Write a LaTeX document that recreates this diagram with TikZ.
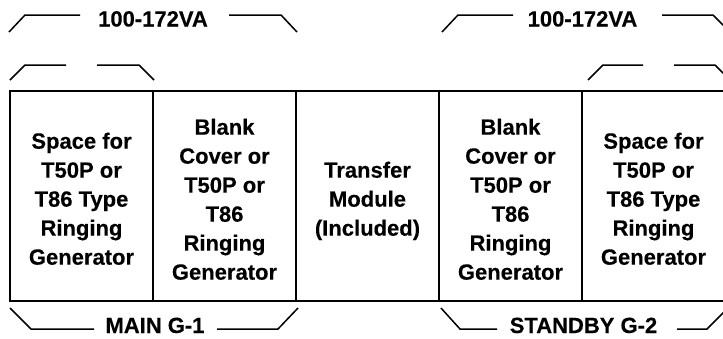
\documentclass[tikz,border=0pt]{standalone}
\usepackage{fontspec}
\setmainfont[BoldFeatures={FakeBold=0.3}]{Liberation Sans}
\begin{document}
\begin{tikzpicture}[x=1pt,y=-1pt,
  box/.style={line width=1.8pt},
  brk/.style={line width=1.5pt},
  lbl/.style={font=\fontsize{22}{29}\selectfont\bfseries, inner sep=0pt, anchor=base},
  cell/.style={font=\fontsize{22}{29}\selectfont\bfseries, inner sep=0pt, anchor=north, align=center}]
\useasboundingbox (0,0) rectangle (723,338);
\clip (0,0) rectangle (723,338);
% frame and dividers
\draw[box] (10,91) rectangle (726,301);
\foreach \x in {153,296,439,582} \draw[box] (\x,91) -- (\x,301);
% cell texts
\node[cell] (c1) at (81.5,132.5) {Space for\\T50P or\\T86 Type\\Ringing\\Generator};
\node[cell] (c2) at (224.5,118.5) {Blank\\Cover or\\T50P or\\T86\\Ringing\\Generator};
\node[cell] (c3) at (367.5,161.5) {Transfer\\Module\\(Included)};
\node[cell] (c4) at (510.5,118.5) {Blank\\Cover or\\T50P or\\T86\\Ringing\\Generator};
\node[cell] (c5) at (653.5,132.5) {Space for\\T50P or\\T86 Type\\Ringing\\Generator};
% labels
\node[lbl] (t1) at (153,26.5) {100-172VA};
\node[lbl] (t2) at (582.5,26.5) {100-172VA};
\node[lbl] (b1) at (155,333) {MAIN G-1};
\node[lbl] (b2) at (583.5,333) {STANDBY G-2};
% top brackets
\draw[brk] (9,32) -- (25,15) -- (80,15);
\draw[brk] (229,15) -- (281,15) -- (297,32);
\draw[brk] (442,32) -- (458,15) -- (513,15);
\draw[brk] (662,15) -- (713,15) -- (730,32);
\draw[brk] (10,80) -- (25,65) -- (66,65);
\draw[brk] (97,65) -- (139,65) -- (154,80);
\draw[brk] (588,80) -- (603,65) -- (643,65);
\draw[brk] (674,65) -- (715,65) -- (730,80);
% bottom brackets
\draw[brk] (10,308) -- (31,329) -- (94,329);
\draw[brk] (217,329) -- (278,329) -- (298,308);
\draw[brk] (441,308) -- (460,329) -- (497,329);
\draw[brk] (677,329) -- (707,329) -- (728,308);
\end{tikzpicture}
\end{document}
